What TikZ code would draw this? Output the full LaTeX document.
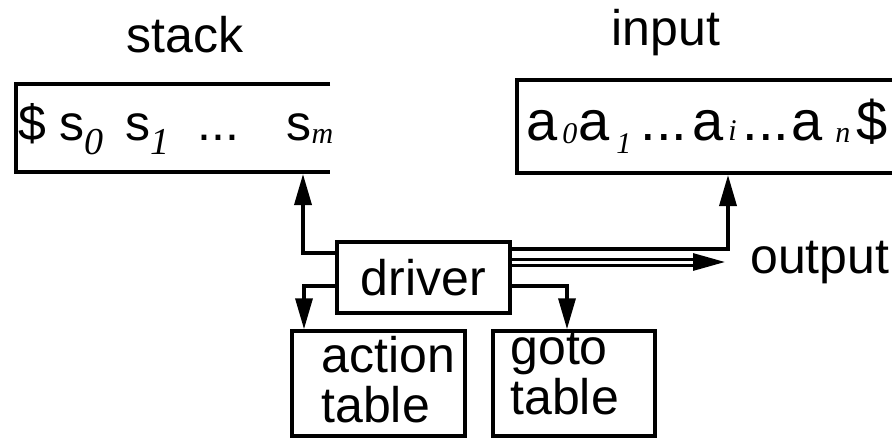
\documentclass[tikz,border=0pt]{standalone}
\usepackage{fontspec}
\setmainfont{Liberation Sans}
\newfontfamily\subfont{Liberation Serif}
\usetikzlibrary{positioning,arrows.meta}

\newcommand{\lsub}[3]{\raisebox{-#1pt}{\fontsize{#2}{#2}\selectfont\subfont\itshape #3}}

\begin{document}
\begin{tikzpicture}[x=1pt,y=-1pt,
		box/.style={draw,line width=3.5pt,inner sep=0pt},
		big/.style={font=\fontsize{50}{50}\selectfont,inner sep=0pt},
		conn/.style={line width=3.5pt},
		link/.style={line width=3.5pt,-{Triangle[length=31pt,width=17pt]}},
		outlink/.style={line width=3pt,double,double distance=3pt,-{Triangle[length=32pt,width=17pt]}}
		]
		\useasboundingbox (0,0) rectangle (892,440);
		
		% stack and input tapes
		\draw[conn] (330,84) -- (16,84) -- (16,172) -- (330,172);
		\draw[conn] (892,80) -- (517,80) -- (517,173) -- (892,173);
		\coordinate (stackptr) at (303,174);
		\coordinate (inptr) at (728,175);
		\coordinate (outend) at (725,262);
		
		\node[big,anchor=base] (stacklbl) at (185,52) {stack};
		\node[big,anchor=base] (inputlbl) at (666,45) {input};
		\node[big,anchor=base west] (outputlbl) at (750,273) {output};
		
		\node[big,anchor=base west] (stackrow) at (18,140) {\$ s\lsub{14}{38}{0}\hspace{22pt}s\lsub{14}{38}{1}\hspace{28pt}...\hspace{47pt}s\lsub{3}{30}{m}};
		\node[big,font=\fontsize{56}{56}\selectfont,anchor=base west] (inputrow) at (526,140) {a\hspace{5pt}\lsub{3}{30}{0}\hspace{1pt}a\hspace{7pt}\lsub{13}{30}{1}\hspace{9pt}...\hspace{5pt}a\hspace{5pt}\lsub{0}{30}{i}\hspace{6pt}...\hspace{2pt}a\hspace{13pt}\lsub{2}{30}{n}\hspace{6pt}\$};
		
		% driver and tables
		\node[box,big,minimum width=173pt,minimum height=71pt] (driver) at (423.5,277.5) {driver};
		\node[box,minimum width=173pt,minimum height=105pt] (action) at (378.5,383.5) {};
		\node[box,minimum width=162pt,minimum height=105pt] (goto) at (574,383.5) {};
		\node[big,align=left,anchor=west] (actionlbl) at ([xshift=31pt,yshift=3.5pt]action.west) {action\\table};
		\node[big,align=left,anchor=west] (gotolbl) at ([xshift=19pt,yshift=9.5pt]goto.west) {goto\\table};
		
		\draw[link] ([yshift=24.5pt]driver.west) -| (stackptr);
		\draw[link] ([yshift=-8.5pt]driver.west) -| ([xshift=13.75pt]action.north west);
		\draw[link] ([yshift=28.5pt]driver.east) -| (inptr);
		\draw[outlink] ([yshift=15.5pt]driver.east) -- (outend);
		\draw[link] ([yshift=-8.5pt]driver.east) -| ([xshift=75.75pt]goto.north west);
	\end{tikzpicture}
\end{document}
